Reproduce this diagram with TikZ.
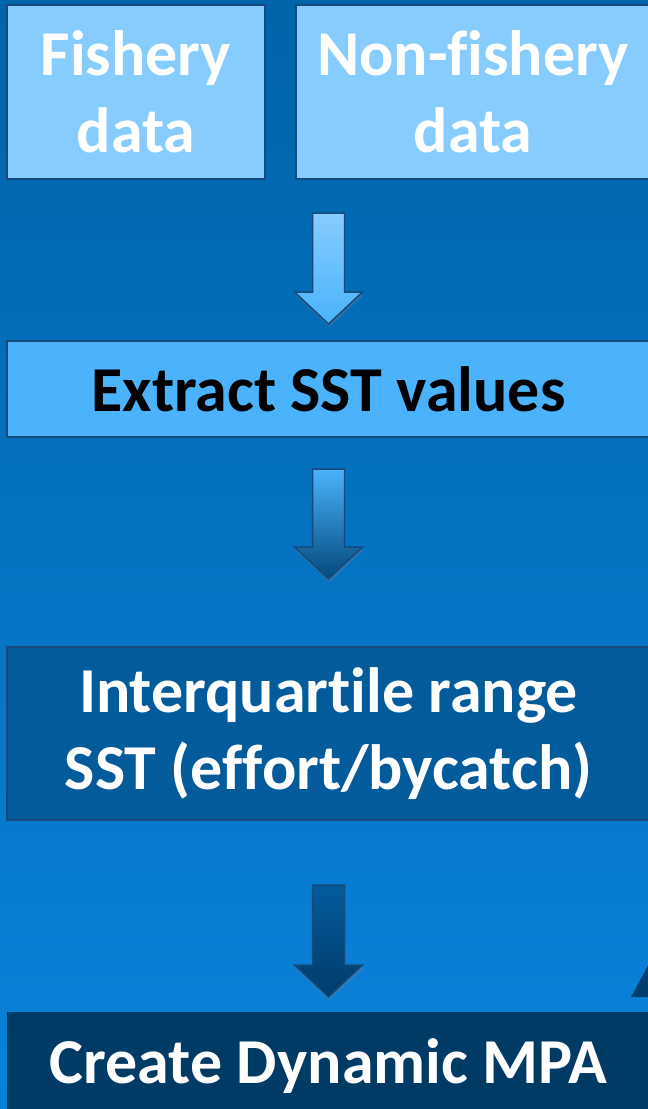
\documentclass[tikz,border=0pt]{standalone}
\usepackage{fontspec}
\setmainfont[RawFeature={-liga;-clig}]{Carlito}
\usetikzlibrary{positioning,calc,shadows}

\definecolor{bgtop}{HTML}{0064AA}
\definecolor{bgmid}{HTML}{0068B3}
\definecolor{bgbot}{HTML}{0A82DA}
\definecolor{boxline}{HTML}{174A7C}
\definecolor{fishfill}{HTML}{87CCFF}
\definecolor{sstfill}{HTML}{4AB3FB}
\definecolor{iqrfill}{HTML}{045B9C}
\definecolor{mpafill}{HTML}{003B66}
\definecolor{arrdark}{HTML}{003C6C}

\tikzset{
  box/.style={draw=boxline, line width=2pt, align=center, inner sep=0pt,
    font=\fontsize{64}{77}\selectfont\bfseries},
  blockarrow/.style={draw=boxline, line width=1.5pt,
    drop shadow={opacity=.35, shadow xshift=1pt, shadow yshift=-3pt},
    to path={let \p1=(\tikztostart), \p2=(\tikztotarget) in
      (\x1-16pt,\y1) -- (\x1+16pt,\y1) -- (\x1+16pt,\y2+32pt) -- (\x1+34pt,\y2+32pt)
      -- (\x2,\y2) -- (\x1-34pt,\y2+32pt) -- (\x1-16pt,\y2+32pt) -- cycle}}
}

\begin{document}
\begin{tikzpicture}[x=1pt,y=-1pt]

        \useasboundingbox (0,0) rectangle (648,1109);
        \clip (0,0) rectangle (648,1109);
        \shade[top color=bgtop, middle color=bgmid, bottom color=bgbot] (0,0) rectangle (648,1109);

        % data boxes
        \node[box, fill=fishfill, text=white, minimum width=258pt, minimum height=174pt] (fish) at (136,92) {Fishery\\data};
        \node[box, fill=fishfill, text=white, minimum width=354pt, minimum height=174pt] (nonfish) at (473,92) {Non-fishery\\data};

        % steps
        \node[box, fill=sstfill, text=black, minimum width=643pt, minimum height=96pt] (ext) at (328.5,389) {Extract SST values};
        \node[box, fill=iqrfill, text=white, minimum width=643pt, minimum height=173pt] (iqr) at (328.5,733.5) {Interquartile range\\SST (effort/bycatch)};
        \node[box, draw=none, fill=mpafill, text=white, minimum width=643pt, minimum height=108pt] (mpa) at (328.5,1066) {Create Dynamic MPA};

        % arrows
        \coordinate (a1s) at ($(fish.south -| ext.north)+(0,33)$);
        \coordinate (a1e) at ($(ext.north)+(0,-16)$);
        \coordinate (a2s) at ($(ext.south)+(0,31)$);
        \coordinate (a2e) at ($(iqr.north)+(0,-67)$);
        \coordinate (a3s) at ($(iqr.south)+(0,64)$);
        \coordinate (a3e) at ($(mpa.north)+(0,-14)$);

        \draw[blockarrow, top color=fishfill, bottom color=sstfill] (a1s) to (a1e);
        \draw[blockarrow, top color=sstfill, bottom color=iqrfill!80!black] (a2s) to (a2e);
        \draw[blockarrow, top color=iqrfill, bottom color=arrdark] (a3s) to (a3e);

        % piece of an arrow at the right edge
        \fill[arrdark] (631,997) -- (650,962) -- (650,997) -- cycle;

\end{tikzpicture}
\end{document}
